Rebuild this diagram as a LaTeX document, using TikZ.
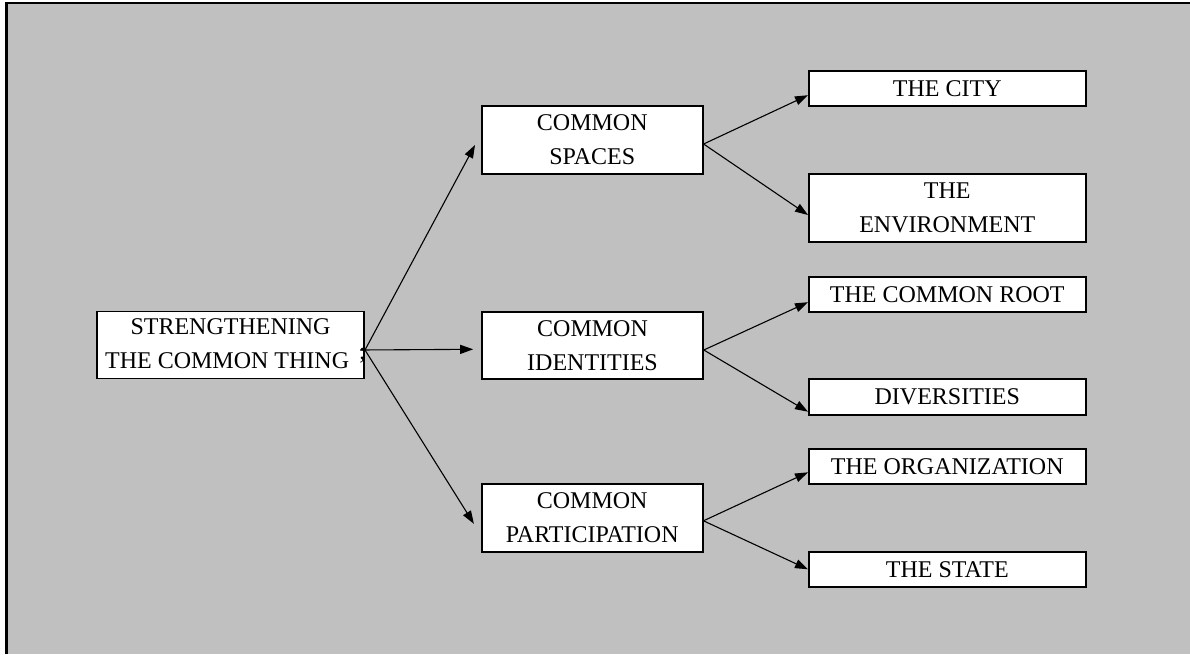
\documentclass[tikz,border=0pt]{standalone}
\usepackage{fontspec}
\setmainfont{Liberation Serif}
\usetikzlibrary{arrows.meta,calc}
\definecolor{bggrey}{HTML}{C0C0C0}
\tikzset{
  box/.style={draw=black, fill=white, line width=1.6pt, inner sep=0pt,
    align=center, font=\fontsize{24}{34}\selectfont},
  arr/.style={draw=black, line width=1.1pt, -{Triangle[length=13pt,width=9pt]}}
}
\begin{document}
\begin{tikzpicture}[x=1pt,y=-1pt]
\useasboundingbox (0,0) rectangle (1190,654);
\fill[white] (0,0) rectangle (1190,654);
\fill[bggrey] (6,3) rectangle (1190,654);
\draw[line width=2.5pt] (6.5,654) -- (6.5,3) -- (1190,3);

\node[box, minimum width=267pt, minimum height=67pt] (s) at (230.5,345) {STRENGTHENING\\THE COMMON THING\phantom{;}};
\node[font=\fontsize{24}{34}\selectfont, inner sep=0pt, anchor=west] (semi) at (359,356) {;};

\node[box, minimum width=221pt, minimum height=68pt] (cs) at (592.3,140) {COMMON\\SPACES};
\node[box, minimum width=221pt, minimum height=67pt] (ci) at (592.5,345.3) {COMMON\\IDENTITIES};
\node[box, minimum width=221pt, minimum height=68pt] (cp) at (592.2,517.8) {COMMON\\PARTICIPATION};

\node[box, minimum width=277pt, minimum height=35pt] (city) at (947.3,88.2) {THE CITY};
\node[box, minimum width=277pt, minimum height=68pt] (env) at (947.3,208) {THE\\ENVIRONMENT};
\node[box, minimum width=277pt, minimum height=35pt] (root) at (947.3,294.2) {THE COMMON ROOT};
\node[box, minimum width=277pt, minimum height=36pt] (div) at (947.3,396.7) {DIVERSITIES};
\node[box, minimum width=277pt, minimum height=35pt] (org) at (947.3,466.3) {THE ORGANIZATION};
\node[box, minimum width=277pt, minimum height=35pt] (state) at (947.3,569.3) {THE STATE};

\coordinate (sout) at (365,350);
\coordinate (csout) at ([yshift=-4pt]cs.east);
\coordinate (ciout) at ([yshift=-4.7pt]ci.east);
\coordinate (cpout) at ([yshift=-3pt]cp.east);

\draw[arr] (sout) -- ([shift={(-6pt,-5pt)}]cs.west);
\draw[arr] ([xshift=-5pt]sout) -- ([shift={(-8pt,-4pt)}]ci.west);
\draw[arr] (sout) -- ([shift={(-7pt,-6pt)}]cp.west);

\draw[arr] (csout) -- ([yshift=-7pt]city.west);
\draw[arr] (csout) -- ([yshift=-7pt]env.west);
\draw[arr] (ciout) -- ([yshift=-8pt]root.west);
\draw[arr] (ciout) -- ([yshift=-15pt]div.west);
\draw[arr] (cpout) -- ([yshift=-6pt]org.west);
\draw[arr] (cpout) -- (state.west);
\end{tikzpicture}
\end{document}
